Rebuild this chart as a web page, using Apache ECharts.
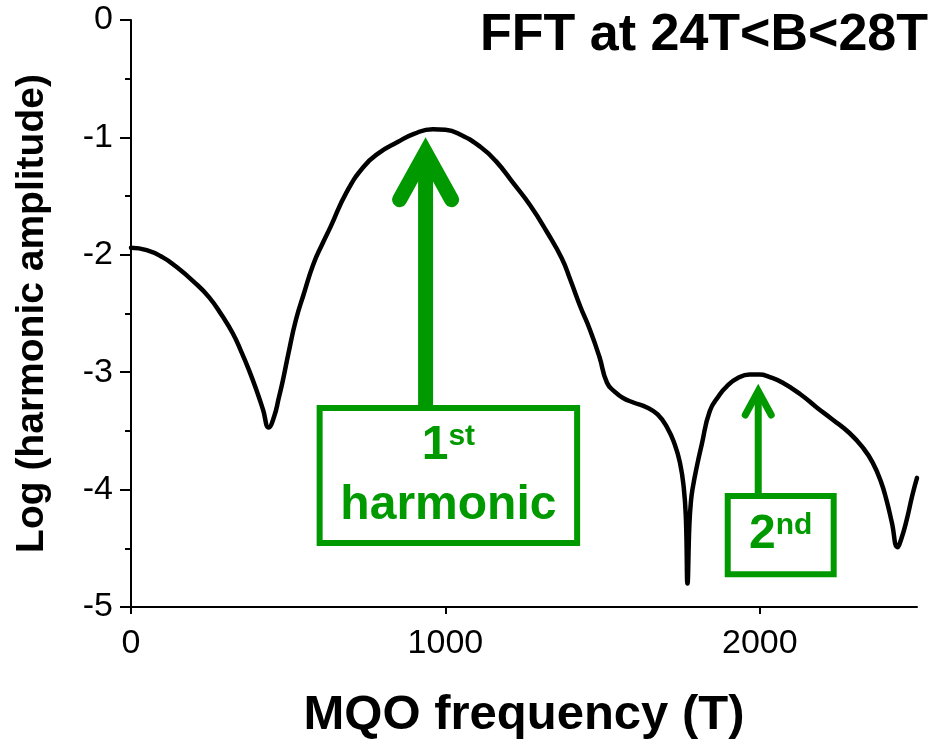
<!DOCTYPE html>
<html>
<head>
<meta charset="utf-8">
<title>FFT at 24T&lt;B&lt;28T</title>
<script src="https://cdn.jsdelivr.net/npm/echarts@6/dist/echarts.min.js"></script>
<style>
  html, body { margin: 0; padding: 0; background: #fff; }
  #chart { width: 938px; height: 739px; }
</style>
</head>
<body>
<div id="chart"></div>
<script>
// FFT spectrum of the magnetic quantum oscillations, 24 T < B < 28 T
const frequency = [
  0, 50, 100, 143, 200, 248, 290, 324, 350, 375, 400, 420, 438, 455, 470, 483,
  500, 524, 550, 580, 610, 635, 685, 740, 790, 848, 900, 960, 1000, 1050, 1111,
  1160, 1216, 1270, 1324, 1370, 1397, 1429, 1460, 1490, 1514, 1540, 1565, 1600,
  1641, 1675, 1705, 1730, 1746, 1758, 1765, 1770, 1776, 1781, 1787, 1800, 1815,
  1841, 1870, 1895, 1930, 1968, 2000, 2030, 2073, 2130, 2181, 2230, 2286, 2330,
  2359, 2385, 2403, 2420, 2438, 2450, 2467, 2485, 2500
];
const logAmplitude = [
  -1.94, -1.96, -2.02, -2.10, -2.23, -2.36, -2.52, -2.67, -2.82, -2.98, -3.16, -3.32, -3.47, -3.38, -3.22, -3.07,
  -2.85, -2.56, -2.33, -2.08, -1.90, -1.76, -1.47, -1.25, -1.13, -1.04, -0.97, -0.93, -0.935, -0.98, -1.08,
  -1.20, -1.39, -1.58, -1.81, -2.03, -2.21, -2.44, -2.64, -2.87, -3.09, -3.17, -3.22, -3.26,
  -3.30, -3.36, -3.47, -3.62, -3.77, -3.98, -4.25, -4.80, -4.30, -4.10, -3.98, -3.80, -3.62,
  -3.33, -3.20, -3.12, -3.05, -3.02, -3.02, -3.04, -3.09, -3.19, -3.30, -3.40, -3.52, -3.65,
  -3.77, -3.93, -4.09, -4.28, -4.49, -4.42, -4.26, -4.05, -3.90
];

// Axis ticks
const xTicks = [0, 1000, 2000];

// Harmonic annotations: arrow position, arrow head vertex, label box extent
const harmonicOrder = ['1', '2'];
const harmonicSuffix = ['st', 'nd'];
const harmonicWord = ['harmonic', ''];
const arrowX = [937, 1995];
const arrowHead = [-1.13, -3.16];
const boxLeft = [600, 1898];
const boxRight = [1419, 2235];
const boxTop = [-3.305, -4.055];
const boxBottom = [-4.455, -4.72];

const GREEN = '#009900';
const FONT = '"Liberation Sans", Arial, Helvetica, sans-serif';
const arrowStyle = [
  { width: 15, headDx: 26, headDy: 47 },
  { width: 7, headDx: 13, headDy: 24 }
];

const seriesData = frequency.map((f, i) => [f, logAmplitude[i]]);
const annotationData = arrowX.map((x, i) => [x, arrowHead[i], boxLeft[i], boxRight[i], boxTop[i], boxBottom[i]]);

function renderHarmonic(params, api) {
  const i = params.dataIndex;
  const st = arrowStyle[i];
  const head = api.coord([api.value(0), api.value(1)]);
  const tl = api.coord([api.value(2), api.value(4)]);
  const br = api.coord([api.value(3), api.value(5)]);
  const cx = (tl[0] + br[0]) / 2;
  const cy = (tl[1] + br[1]) / 2;
  const children = [
    {
      type: 'rect',
      shape: { x: tl[0], y: tl[1], width: br[0] - tl[0], height: br[1] - tl[1] },
      style: { fill: '#fff', stroke: GREEN, lineWidth: 6 }
    },
    {
      type: 'line',
      shape: { x1: head[0], y1: tl[1] - 3, x2: head[0], y2: head[1] + 4 },
      style: { stroke: GREEN, lineWidth: st.width, lineCap: 'butt' }
    },
    {
      type: 'polyline',
      shape: { points: [[head[0] - st.headDx, head[1] + st.headDy], [head[0], head[1]], [head[0] + st.headDx, head[1] + st.headDy]] },
      style: { stroke: GREEN, fill: null, lineWidth: st.width, lineCap: 'round', lineJoin: 'miter', miterLimit: 10 }
    }
  ];
  const ordinal = '{n|' + harmonicOrder[i] + '}{s|' + harmonicSuffix[i] + '}';
  const rich = {
    n: { fontSize: 48, fontWeight: 'bold', fontFamily: FONT, fill: GREEN, lineHeight: 48, verticalAlign: 'bottom' },
    s: { fontSize: 30, fontWeight: 'bold', fontFamily: FONT, fill: GREEN, lineHeight: 48, verticalAlign: 'top' }
  };
  if (harmonicWord[i]) {
    children.push({
      type: 'text',
      style: { x: cx, y: cy - 30, text: ordinal, rich: rich, align: 'center', verticalAlign: 'middle' }
    });
    children.push({
      type: 'text',
      style: {
        x: cx, y: cy + 30, text: harmonicWord[i], align: 'center', verticalAlign: 'middle',
        fontSize: 48, fontWeight: 'bold', fontFamily: FONT, fill: GREEN
      }
    });
  } else {
    children.push({
      type: 'text',
      style: { x: cx, y: cy, text: ordinal, rich: rich, align: 'center', verticalAlign: 'middle' }
    });
  }
  return { type: 'group', children: children };
}

const chart = echarts.init(document.getElementById('chart'), null, { renderer: 'canvas' });
chart.setOption({
  animation: false,
  backgroundColor: '#fff',
  textStyle: { fontFamily: FONT },
  title: {
    text: 'FFT at 24T<B<28T',
    right: 5,
    top: 5,
    textStyle: { fontSize: 52, fontWeight: 'bold', color: '#000', fontFamily: FONT }
  },
  grid: { left: 131, right: 21, top: 20, bottom: 132, containLabel: false, outerBoundsMode: 'none' },
  xAxis: {
    type: 'value',
    min: 0,
    max: 2500,
    interval: 1000,
    name: 'MQO frequency (T)',
    nameLocation: 'middle',
    nameGap: 84,
    nameTextStyle: { fontSize: 49, fontWeight: 'bold', color: '#000', fontFamily: FONT },
    axisLine: { onZero: false, lineStyle: { color: '#000', width: 2 } },
    axisTick: { show: true, length: 7, lineStyle: { color: '#000', width: 2 }, customValues: xTicks },
    axisLabel: { fontSize: 34, color: '#000', margin: 20, customValues: xTicks, formatter: v => String(v) },
    splitLine: { show: false }
  },
  yAxis: {
    type: 'value',
    min: -5,
    max: 0,
    interval: 1,
    name: 'Log (harmonic amplitude)',
    nameLocation: 'middle',
    nameGap: 79,
    nameTextStyle: { fontSize: 39, fontWeight: 'bold', color: '#000', fontFamily: FONT },
    axisLine: { show: true, onZero: false, lineStyle: { color: '#000', width: 2 } },
    axisTick: { show: true, length: 11, lineStyle: { color: '#000', width: 2 } },
    minorTick: { show: true, splitNumber: 2, length: 6, lineStyle: { color: '#000', width: 2 } },
    axisLabel: { fontSize: 34, color: '#000', margin: 18, formatter: v => String(v) },
    splitLine: { show: false }
  },
  series: [
    {
      name: 'FFT',
      type: 'line',
      data: seriesData,
      showSymbol: false,
      smooth: 0.5,
      lineStyle: { color: '#000', width: 4.5, join: 'round', cap: 'round' },
      z: 2
    },
    {
      name: 'harmonics',
      type: 'custom',
      data: annotationData,
      renderItem: renderHarmonic,
      clip: false,
      z: 5,
      silent: true
    }
  ]
});
</script>
</body>
</html>
